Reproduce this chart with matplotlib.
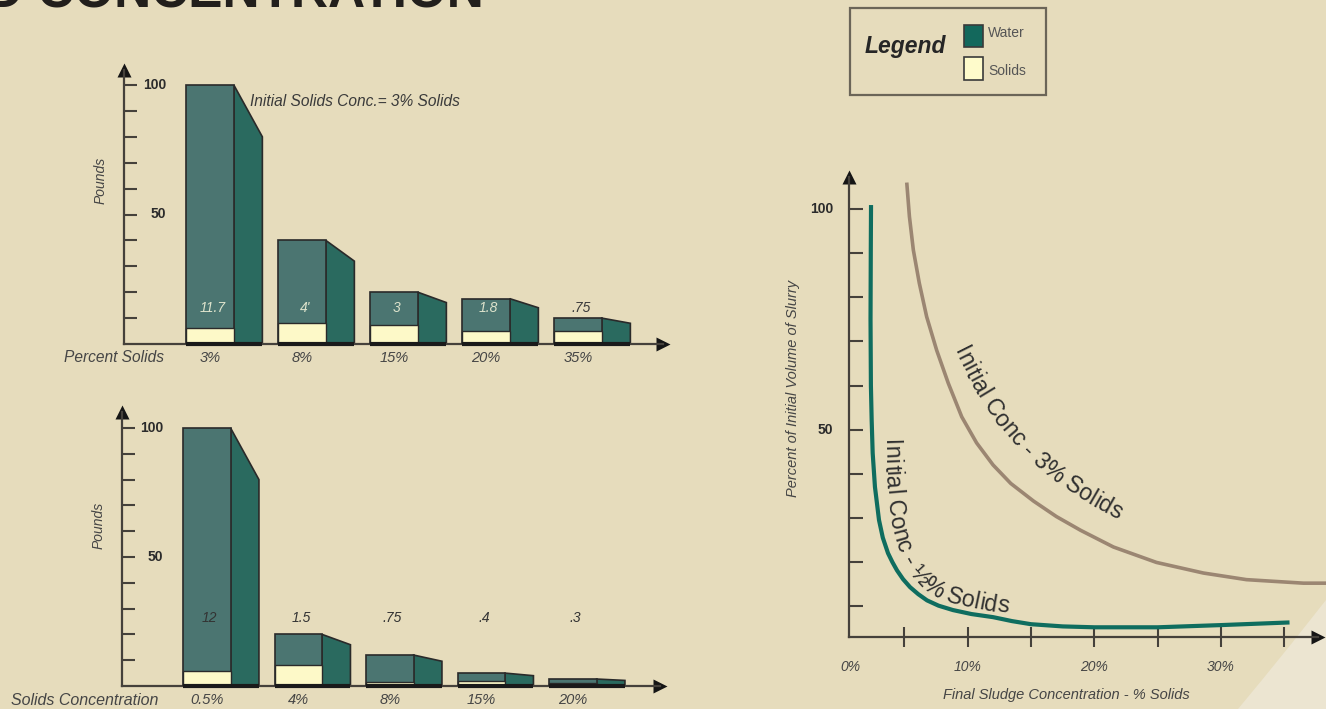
import matplotlib
matplotlib.use("Agg")
import matplotlib.pyplot as plt
import numpy as np
from matplotlib.patches import Rectangle, Polygon
from matplotlib.font_manager import FontProperties

W, H = 1326, 709
BG = "#e6dcbc"
FRONT = "#4b7571"; SIDE = "#2a6a5f"; SOLID = "#fdf9c8"; EDGE = "#2a2a2a"
AXC = "#45413b"; TXT = "#454545"; DARK = "#262320"
GREEN = "#0f6d5f"; BROWN = "#9b8672"

plt.rcParams["font.family"] = ["Liberation Sans", "DejaVu Sans"]

# pounds of slurry, initial concentration 3% solids
top_cats = ["3%", "8%", "15%", "20%", "35%"]
top_total = [100, 40, 20, 17.5, 10]
top_solids = [6, 8, 7.3, 5, 5]
top_notes = ["11.7", "4'", "3", "1.8", ".75"]
top_note_col = ["#dde3cc", "#dde3cc", "#dde3cc", "#dde3cc", "#3a3a3a"]

# pounds of slurry, initial concentration 0.5% solids
bot_cats = ["0.5%", "4%", "8%", "15%", "20%"]
bot_total = [100, 20, 12, 5, 2.7]
bot_solids = [6, 8, 1.7, 2, 1.2]
bot_notes = ["12", "1.5", ".75", ".4", ".3"]

# remaining volume vs final sludge concentration
half_x = [2.37, 2.35, 2.33, 2.36, 2.42, 2.50, 2.68, 3.0, 3.3, 3.71, 4.05, 4.42, 4.9,
          5.45, 6.1, 6.79, 7.7, 8.84, 10.3, 12.0, 13.5, 15.0, 17.5, 20.0, 25.0, 30.0, 35.4]
half_y = [100.9, 90, 75, 60, 52.2, 44.7, 37.0, 29.5, 25.5, 22.0, 20.0, 18.1, 16.1,
          14.3, 12.7, 11.3, 10.1, 9.1, 8.2, 7.5, 6.6, 5.9, 5.4, 5.2, 5.2, 5.7, 6.3]
three_x = [5.19, 5.40, 5.71, 6.18, 6.76, 7.55, 8.47, 9.53, 10.7, 12.0, 13.4, 15.2,
           17.0, 18.9, 21.5, 24.9, 28.6, 32.0, 36.5, 38.6]
three_y = [106.0, 98.3, 90.7, 83.2, 75.6, 68.0, 60.5, 52.9, 47.0, 42.0, 37.8, 33.8,
           30.3, 27.2, 23.4, 19.9, 17.5, 16.0, 15.2, 15.2]

fig = plt.figure(figsize=(W / 100, H / 100), dpi=100, facecolor=BG)

# full-figure overlay in pixel units for title, legend and decorations
bg = fig.add_axes([0, 0, 1, 1])
bg.set_xlim(0, W); bg.set_ylim(H, 0); bg.axis("off")
bg.add_patch(Polygon([(1238, 709), (1262, 680), (1292, 643), (1326, 600), (1326, 709)],
                     closed=True, fc="#ece5d1", ec="none"))
bg.text(-14, 8, "D CONCENTRATION", fontsize=37, fontweight="bold", color="#221f1c",
        ha="left", va="baseline")

# legend box
bg.add_patch(Rectangle((850, 8), 196, 87, fc="none", ec="#6b6558", lw=1.6))
bg.text(905, 47, "Legend", fontsize=16.5, fontweight="bold", style="italic", color="#262626",
        ha="center", va="center")
bg.add_patch(Rectangle((964, 25), 19, 22, fc="#13685c", ec="#3a3a3a", lw=1.2))
bg.add_patch(Rectangle((964, 57), 19, 23, fc="#fefbcb", ec="#3a3a3a", lw=1.2))
bg.text(988, 33, "Water", fontsize=10, color="#555555", ha="left", va="center")
bg.text(988, 71, "Solids", fontsize=10, color="#555555", ha="left", va="center")


def px_axes(left, top, right, bottom):
    ax = fig.add_axes([left / W, 1 - bottom / H, (right - left) / W, (bottom - top) / H])
    ax.set_facecolor("none")
    for s in ("top", "right"):
        ax.spines[s].set_visible(False)
    for s in ("left", "bottom"):
        ax.spines[s].set_color(AXC); ax.spines[s].set_linewidth(1.6)
    return ax


def arrows(ax):
    ax.plot([0], [1], marker="^", ms=10, color="#151515", mec="none",
            transform=ax.transAxes, clip_on=False)
    ax.plot([1], [0], marker=">", ms=10, color="#151515", mec="none",
            transform=ax.transAxes, clip_on=False)


def bar_chart(ax, total, solids, cats, notes, note_col, note_y, xlab, lab_x, cat_y, ylab_x, lab_fs):
    fw, sw, slope = 0.52, 0.31, 0.8
    xs = np.arange(len(total))
    for i, (t, s) in enumerate(zip(total, solids)):
        ax.add_patch(Polygon([(i + fw, 0), (i + fw + sw, 0), (i + fw + sw, t * slope), (i + fw, t)],
                             closed=True, fc=SIDE, ec=EDGE, lw=1.2, zorder=2))
    ax.bar(xs, total, width=fw, align="edge", color=FRONT, edgecolor=EDGE, lw=1.2, zorder=3)
    ax.bar(xs, solids, width=fw, align="edge", color=SOLID, edgecolor=EDGE, lw=1.0, zorder=4)
    for i in xs:
        ax.plot([i, i + fw + sw], [0, 0], color="#1a1a1a", lw=3, solid_capstyle="butt",
                zorder=5, clip_on=False)
    for i, (c, n, nc) in enumerate(zip(cats, notes, note_col)):
        ax.text(i + fw / 2, cat_y, c, style="italic", fontsize=10.5, color=TXT,
                ha="center", va="center", clip_on=False)
        ax.text(i + fw / 2 + 0.03, note_y, n, style="italic", fontsize=10, color=nc,
                ha="center", va="center", zorder=6)
    ax.text(lab_x, cat_y, xlab, style="italic", fontsize=lab_fs, color=TXT,
            ha="right", va="center", clip_on=False)
    ax.set_yticks(np.arange(10, 101, 10))
    ax.tick_params(axis="y", direction="in", length=9.5, width=1.5, color=AXC, labelleft=False)
    ax.set_xticks([])
    for v in (100, 50):
        ax.text(ylab_x, v, str(v), fontsize=10, fontweight="bold", color="#2b2b2b",
                ha="right", va="center")
    arrows(ax)


# upper chart
ax1 = px_axes(124, 70, 663, 344)
ax1.set_xlim((124 - 186) / 92, (663 - 186) / 92)
ax1.set_ylim(0, (344 - 70) / 2.59)
bar_chart(ax1, top_total, top_solids, top_cats, top_notes, top_note_col, 13.9,
          "Percent Solids", (164 - 186) / 92, -5.4, (166 - 186) / 92, 11.2)
ax1.text((250 - 186) / 92, (344 - 101) / 2.59, "Initial Solids Conc.= 3% Solids",
         style="italic", fontsize=11.2, color="#3a3a3a", ha="left", va="center")
ax1.text((101 - 186) / 92, (344 - 180) / 2.59, "Pounds", style="italic", fontsize=10,
         color=TXT, rotation=90, ha="center", va="center", clip_on=False)

# lower chart
ax2 = px_axes(122, 412, 660, 686)
ax2.set_xlim((122 - 183) / 91.5, (660 - 183) / 91.5)
ax2.set_ylim(0, (686 - 412) / 2.58)
bar_chart(ax2, bot_total, bot_solids, bot_cats, bot_notes, ["#333333"] * 5, 26.4,
          "Solids Concentration", (158 - 183) / 91.5, -5.6, (163 - 183) / 91.5, 11.5)
ax2.text((99 - 183) / 91.5, (686 - 525) / 2.58, "Pounds", style="italic", fontsize=10,
         color=TXT, rotation=90, ha="center", va="center", clip_on=False)

# volume curves
ax3 = px_axes(849, 177, 1318, 637)
ax3.set_xlim((849 - 841) / 12.67, (1318 - 841) / 12.67)
ax3.set_ylim(3, (650 - 177) / 4.41)
ax3.plot(three_x, three_y, color=BROWN, lw=2.6, solid_capstyle="butt",
         solid_joinstyle="round", clip_on=False)
ax3.plot(half_x, half_y, color=GREEN, lw=3.0, solid_capstyle="butt", solid_joinstyle="round")
ax3.set_xticks(np.arange(5, 36, 5))
ax3.set_yticks(np.arange(10, 101, 10))
ax3.tick_params(axis="x", direction="inout", length=14, width=1.5, color=AXC, labelbottom=False)
ax3.tick_params(axis="y", direction="in", length=10, width=1.5, color=AXC, labelleft=False)
x_lo = ax3.get_xlim()[0]
for v in (0, 10, 20, 30):
    ax3.text(max(v, x_lo + 0.15), -3.9, f"{v}%", style="italic", fontsize=10, color=TXT,
             ha="center", va="center", clip_on=False)
for v in (100, 50):
    ax3.text(-0.6, v, str(v), fontsize=10, fontweight="bold", color="#2b2b2b",
             ha="right", va="center", clip_on=False)
ax3.text(17.8, -10.2, "Final Sludge Concentration - % Solids", style="italic", fontsize=10.5,
         color=TXT, ha="center", va="center", clip_on=False)
ax3.text(-3.8, 59.4, "Percent of Initial Volume of Slurry", style="italic", fontsize=10.5,
         color=TXT, rotation=90, ha="center", va="center", clip_on=False)
arrows(ax3)


def curved_text(ax, text, path, size, color):
    prop = FontProperties(family="Liberation Sans", size=size)
    rend = fig.canvas.get_renderer()
    wx = rend.get_text_width_height_descent("x", prop, ismath=False)[0]

    def adv(s):
        return rend.get_text_width_height_descent(s + "x", prop, ismath=False)[0] - wx

    pts = ax.transData.transform(np.asarray(path, float))
    seg = np.diff(pts, axis=0)
    seglen = np.hypot(seg[:, 0], seg[:, 1])
    cum = np.concatenate([[0], np.cumsum(seglen)])
    seg_ang = np.unwrap(np.arctan2(seg[:, 1], seg[:, 0]))
    vert_ang = np.concatenate([[seg_ang[0]], (seg_ang[:-1] + seg_ang[1:]) / 2, [seg_ang[-1]]])
    inv = ax.transData.inverted()
    for k, ch in enumerate(text):
        if ch == " ":
            continue
        s = (adv(text[:k]) + adv(text[:k + 1])) / 2
        j = int(np.clip(np.searchsorted(cum, s) - 1, 0, len(seg) - 1))
        t = (s - cum[j]) / seglen[j]
        p = pts[j] + t * seg[j]
        ang = np.degrees(vert_ang[j] + t * (vert_ang[j + 1] - vert_ang[j]))
        x, y = inv.transform(p)
        ax.text(x, y, ch, fontproperties=prop, rotation=ang, rotation_mode="anchor",
                ha="center", va="baseline", color=color)


curved_text(bg, "Initial Conc - 3% Solids",
            [(954, 351), (968, 379), (982, 404), (1002, 432), (1027, 459),
             (1057, 484), (1088, 504), (1130, 526)], 16.8, "#2f2f2f")
curved_text(bg, "Initial Conc - \u00bd% Solids",
            [(884, 440), (885, 470), (887, 500), (891, 530), (899, 556), (912, 578),
             (930, 594), (955, 604), (985, 610), (1040, 618)], 16.8, "#2f2f2f")

fig.savefig("out.png", dpi=100, facecolor=BG)
